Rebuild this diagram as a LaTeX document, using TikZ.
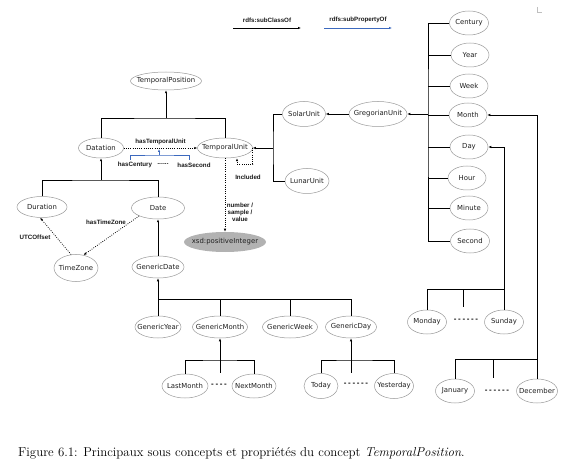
\documentclass[tikz,border=0pt]{standalone}
\usepackage{fontspec}
\usetikzlibrary{shapes.geometric,arrows.meta}
\newfontfamily\ndfam{DejaVu Sans}
\newfontfamily\lbfam{Liberation Sans}
\definecolor{propblue}{RGB}{60,105,190}
\newcommand{\dsh}[1]{\foreach \i in {1,...,#1}{\ifnum\i>1\hspace{1.6pt}\fi -}}
\tikzset{
  cls/.style={ellipse, draw=black!40, line width=0.5pt, inner sep=-9pt, text=black!88,
    font=\ndfam\fontsize{6.9}{8}\selectfont},
  sz/.style 2 args={minimum width=#1pt, minimum height=#2pt},
  tree/.style={line width=0.9pt, black},
  link/.style={line width=0.9pt, black, -{Latex[length=3pt,width=2.4pt]}},
  prop/.style={line width=0.75pt, dash pattern=on 0.8pt off 1.4pt, black, -{Latex[length=3pt,width=2.4pt]}},
  sprop/.style={line width=0.9pt, propblue},
  lbl/.style={font=\lbfam\bfseries\fontsize{6.2}{6.9}\selectfont, inner sep=0pt, text=black!90},
  dots/.style={font=\ndfam\bfseries\fontsize{6.5}{7}\selectfont, inner sep=0pt},
}
\begin{document}
\begin{tikzpicture}[x=1pt,y=-1pt]
\useasboundingbox (0,0) rectangle (575,470);
% legend
\node[lbl] (lg1) at (267,20) {rdfs:subClassOf};
\node[lbl] (lg2) at (358,20) {rdfs:subPropertyOf};
\coordinate (la1) at (233,28); \coordinate (la2) at (301,28);
\coordinate (lb1) at (324,28); \coordinate (lb2) at (392,28);
\draw[link] (la1) -- (la2);
\draw[sprop, -{Latex[length=3pt,width=2.4pt]}] (lb1) -- (lb2);
\coordinate (cm1) at (537,7); \coordinate (cm2) at (537,12); \coordinate (cm3) at (542,12);
\draw[black!25, line width=0.4pt] (cm1) -- (cm2) -- (cm3);

% left part nodes
\node[cls, sz={71}{18}] (tp) at (166,81) {TemporalPosition};
\node[cls, sz={45}{20}] (dat) at (101,148) {Datation};
\node[cls, sz={55}{20}] (tu) at (225,148) {TemporalUnit};
\node[cls, sz={50}{21}] (dur) at (42,207) {Duration};
\node[cls, sz={53}{22}] (date) at (158,208) {Date};
\node[cls, sz={44}{27}] (tz) at (76,268) {TimeZone};
\node[cls, sz={82}{20}, draw=none, fill=black!30] (xsd) at (225,242) {xsd:positiveInteger};
\node[cls, sz={52}{22}] (gd) at (158,267) {GenericDate};
\node[cls, sz={46}{22}] (gy) at (158,327) {GenericYear};
\node[cls, sz={55}{22}] (gm) at (220,327) {GenericMonth};
\node[cls, sz={55}{22}] (gw) at (290,327) {GenericWeek};
\node[cls, sz={51}{22}] (gday) at (351,327) {GenericDay};
\node[cls, sz={46}{24}] (lm) at (185,386) {LastMonth};
\node[cls, sz={44}{24}] (nm) at (254,386) {NextMonth};
\node[cls, sz={34}{25}] (today) at (321,386) {Today};
\node[cls, sz={39}{25}] (yest) at (394,386) {Yesterday};

% right part nodes
\node[cls, sz={43}{25}] (solar) at (304,114) {SolarUnit};
\node[cls, sz={58}{25}] (greg) at (378,114) {GregorianUnit};
\node[cls, sz={44}{25}] (lunar) at (307,181) {LunarUnit};
\node[cls, sz={39}{24}] (century) at (469,23) {Century};
\node[cls, sz={38}{24}] (year) at (470,55) {Year};
\node[cls, sz={38}{24}] (week) at (469,86) {Week};
\node[cls, sz={38}{24}] (month) at (468,115) {Month};
\node[cls, sz={38}{24}] (day) at (469,147) {Day};
\node[cls, sz={38}{24}] (hour) at (467,178) {Hour};
\node[cls, sz={38}{24}] (minute) at (469,208) {Minute};
\node[cls, sz={39}{24}] (second) at (470,241) {Second};
\node[cls, sz={39}{24}] (mon) at (427,322) {Monday};
\node[cls, sz={39}{24}] (sun) at (504,322) {Sunday};
\node[cls, sz={39}{24}] (jan) at (455,391) {January};
\node[cls, sz={41}{24}] (dec) at (537,391) {December};

% subclass trees
\coordinate (j1) at (166,118);
\draw[tree] (dat.north) |- (j1) -| (tu.north);
\draw[link] (j1) -- (tp.south);

\coordinate (j2) at (101,180);
\draw[tree] (dur.north) |- (j2) -| (date.north);
\draw[link] (j2) -- (dat.south);

\draw[link] (gd.north) -- (date.south);

\coordinate (j3) at (158,299);
\draw[tree] (gy.north) -- (j3) -| (gday.north);
\draw[tree] (j3 -| gm) -- (gm.north);
\draw[tree] (j3 -| gw) -- (gw.north);
\draw[link] (j3) -- (gd.south);

\coordinate (j4) at (220,360); \coordinate (s4) at (220,373);
\draw[tree] (lm.north) |- (j4) -| (nm.north);
\draw[tree] (j4) -- (s4);
\draw[link] (j4) -- (gm.south);
\node[dots] (d4) at (219,385) {\dsh{4}};

\coordinate (j5) at (351,360); \coordinate (s5) at (351,373);
\draw[tree] (today.north) |- (j5) -| (yest.north);
\draw[tree] (j5) -- (s5);
\draw[link] (j5) -- (gday.south);
\node[dots] (d5) at (356,384) {\dsh{6}};

\coordinate (j6) at (273,148);
\draw[tree] (solar.west) -| (j6) |- (lunar.west);
\draw[link] (j6) -- (tu.east);
\draw[link] (greg.west) -- (solar.east);

\coordinate (j7) at (428,114);
\draw[tree] (century.west) -| (j7) |- (second.west);
\foreach \n in {year,week,month,day,hour,minute}
  \draw[tree] (j7 |- \n) -- (\n.west);
\draw[link] (j7) -- (greg.east);

\draw[link] (sun.north) |- (day.east);
\coordinate (j8) at (504,289); \coordinate (s8a) at (463,289); \coordinate (s8b) at (463,307);
\draw[tree] (mon.north) |- (j8);
\draw[tree] (s8a) -- (s8b);
\node[dots] (d8) at (466,320) {\dsh{6}};

\draw[link] (dec.north) |- (month.east);
\coordinate (j9) at (537,359); \coordinate (s9a) at (493,359); \coordinate (s9b) at (493,378);
\draw[tree] (jan.north) |- (j9);
\draw[tree] (s9a) -- (s9b);
\node[dots] (d9) at (497,391) {\dsh{6}};

% properties
\draw[prop] (dat.east) -- (tu.west) node[lbl, midway, above=2.5pt] (htu) {hasTemporalUnit};
\coordinate (bl) at (130,160); \coordinate (br) at (189,160);
\coordinate (bm) at (159,155); \coordinate (b0) at (159,149);
\draw[sprop] (bl) |- (bm) -| (br);
\draw[sprop, -{Latex[length=3pt,width=2.4pt]}] (bm) -- (b0);
\node[lbl] (hc) at (135,165) {hasCentury};
\node[dots, font=\ndfam\bfseries\fontsize{5}{6}\selectfont] (hd) at (163,164) {......};
\node[lbl] (hs) at (194,165) {hasSecond};

\coordinate (inc) at (237,164);
\draw[prop] (tu.east) |- (inc) -- (inc |- tu.south);
\node[lbl] (incl) at (248,177) {Included};

\draw[prop] (tu.south) -- (xsd.north);
\node[lbl, align=center] (nsv) at (240,212) {number /\\sample /\\value};

\draw[prop] (tz.110) -- (dur.-100);
\node[lbl] (utc) at (35,237) {UTCOffset};
\draw[prop] (date.south west) -- (tz.60);
\node[lbl] (htz) at (106,222) {hasTimeZone};

% caption
\node[anchor=west, inner sep=0pt, font=\fontsize{12.9}{15}\selectfont] (cap) at (18,453)
  {Figure 6.1: Principaux sous concepts et propriétés du concept \textit{TemporalPosition}.};
\end{tikzpicture}
\end{document}
